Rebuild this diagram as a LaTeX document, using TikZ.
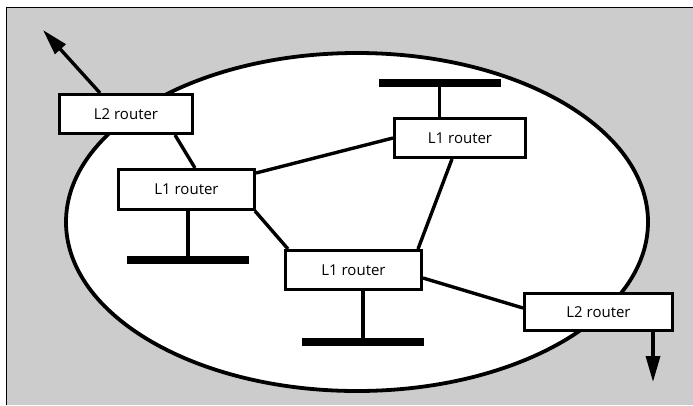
\documentclass[tikz,border=0pt]{standalone}
\usepackage{fontspec}
\setmainfont{Open Sans}
\usetikzlibrary{arrows.meta}
\definecolor{bggray}{gray}{0.80}
\tikzset{
  router/.style={draw=black, line width=3pt, fill=white, rectangle, inner sep=0pt,
     font=\fontsize{15}{17}\selectfont},
  bar/.style={fill=black, rectangle, inner sep=0pt, minimum height=8pt},
  link/.style={line width=3.4pt},
  outarrow/.style={line width=3.4pt, -{Triangle[length=26pt,width=14pt]}},
}
\begin{document}
\begin{tikzpicture}[x=1pt,y=-1pt]
\useasboundingbox (0,0) rectangle (693,405);
\fill[bggray] (6,7) rectangle (693,405);
\draw[line width=1pt] (6,405) -- (6,7) -- (693,7);
\draw[line width=3.8pt, fill=white] (357,222) ellipse [x radius=291, y radius=169];

\node[router, minimum width=133pt, minimum height=39pt] (L2a) at (126,114) {L2 router};
\node[router, minimum width=136pt, minimum height=40pt] (L1a) at (186.5,189.5) {L1 router};
\node[router, minimum width=131pt, minimum height=39pt] (L1b) at (460,138) {L1 router};
\node[router, minimum width=136pt, minimum height=39pt] (L1c) at (353.5,270) {L1 router};
\node[router, minimum width=148pt, minimum height=37pt] (L2b) at (598.5,312) {L2 router};

\node[bar, minimum width=122pt] (barT) at (439.5,83) {};
\node[bar, minimum width=122pt] (barL) at (188,260) {};
\node[bar, minimum width=122pt] (barB) at (363,342) {};

\coordinate (outA) at (43,30);
\coordinate (outB) at (653,382);

\draw[link] (barT.center) -- (barT.center |- L1b.north);
\draw[link] (barL.center) -- (barL.center |- L1a.south);
\draw[link] (barB.center) -- (barB.center |- L1c.south);

\draw[link] ([xshift=49pt]L2a.south) -- ([xshift=8.5pt]L1a.north);
\draw[link] ([yshift=16.5pt]L1a.east) -- (L1b.west);
\draw[link] ([xshift=-1pt]L1a.south east) -- ([xshift=4pt]L1c.north west);
\draw[link] ([xshift=-8pt]L1b.south) -- ([xshift=64.5pt]L1c.north);
\draw[link] ([yshift=-8pt]L1c.east) -- ([yshift=4pt]L2b.west);

\draw[outarrow] ([xshift=-26pt]L2a.north) -- (outA);
\draw[outarrow] ([xshift=54.5pt]L2b.south) -- (outB);
\end{tikzpicture}
\end{document}
